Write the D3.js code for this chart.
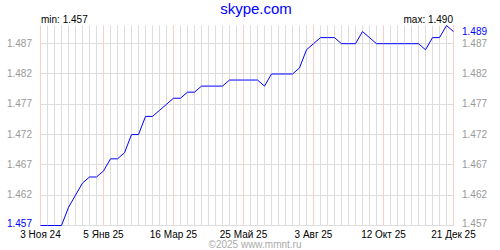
<!DOCTYPE html>
<html>
<head>
<meta charset="utf-8">
<script src="https://cdn.jsdelivr.net/npm/d3@7"></script>
<style>
html, body { margin: 0; padding: 0; background: #fff; }
svg { display: block; }
text { font-family: "Liberation Sans", Arial, sans-serif; }
</style>
</head>
<body>
<svg id="chart" width="500" height="250"></svg>
<script>
// ---- data ----
const title = "skype.com";
const startDate = "2024-11-03";   // first weekly observation
const values = [
  1.457, 1.457, 1.457, 1.457, 1.460, 1.462, 1.464, 1.465, 1.465, 1.466,
  1.468, 1.468, 1.469, 1.472, 1.472, 1.475, 1.475, 1.476, 1.477, 1.478,
  1.478, 1.479, 1.479, 1.480, 1.480, 1.480, 1.480, 1.481, 1.481, 1.481,
  1.481, 1.481, 1.480, 1.482, 1.482, 1.482, 1.482, 1.483, 1.486, 1.487,
  1.488, 1.488, 1.488, 1.487, 1.487, 1.487, 1.489, 1.488, 1.487, 1.487,
  1.487, 1.487, 1.487, 1.487, 1.487, 1.486, 1.488, 1.488, 1.490, 1.489
];
const yTicks = [1.457, 1.462, 1.467, 1.472, 1.477, 1.482, 1.487];
const xTickDates = ["2024-11-03", "2025-01-05", "2025-03-16", "2025-05-25", "2025-08-03", "2025-10-12", "2025-12-21"];
const xTickLabels = ["3 Ноя 24", "5 Янв 25", "16 Мар 25", "25 Май 25", "3 Авг 25", "12 Окт 25", "21 Дек 25"];
const copyright = "©2025 www.mmnt.ru";

// ---- build ----
const parse = d3.utcParse("%Y-%m-%d");
const start = parse(startDate);
const data = values.map((v, i) => ({ date: d3.utcDay.offset(start, 7 * i), value: v }));
const minV = d3.min(values), maxV = d3.max(values), lastV = values[values.length - 1];
const fmt = d3.format(".3f");

const svg = d3.select("#chart");
const x = d3.scaleUtc()
  .domain([data[0].date, data[data.length - 1].date])
  .range([40.5, 453.5]);
const y = d3.scaleLinear().domain([1.457, 1.490]).range([225.5, 25.5]);
const crisp = v => Math.round(v - 0.5) + 0.5;

// weekly vertical grid
const weeks = data.map(d => d.date);
svg.append("g").selectAll("line").data(weeks).join("line")
  .attr("x1", d => crisp(x(d))).attr("x2", d => crisp(x(d)))
  .attr("y1", y(1.490)).attr("y2", y(1.457))
  .attr("stroke", "#dddddd").attr("stroke-width", 1);

// horizontal grid
svg.append("g").selectAll("line").data(yTicks).join("line")
  .attr("x1", 40.5).attr("x2", 453.5)
  .attr("y1", d => crisp(y(d))).attr("y2", d => crisp(y(d)))
  .attr("stroke", "#dddddd").attr("stroke-width", 1);

// red major lines
const majors = xTickDates.map(parse);
svg.append("g").selectAll("line").data(majors).join("line")
  .attr("x1", d => crisp(x(d))).attr("x2", d => crisp(x(d)))
  .attr("y1", y(1.490)).attr("y2", y(1.457))
  .attr("stroke", "#ffcccc").attr("stroke-width", 1);

// line
const line = d3.line().x(d => x(d.date)).y(d => y(d.value));
svg.append("path").datum(data)
  .attr("d", line)
  .attr("fill", "none").attr("stroke", "#0000ff").attr("stroke-width", 1);

const labelY = d => d === yTicks[0] ? y(d) + 1.3 : y(d) + 3.2;

// left y labels
svg.append("g").selectAll("text").data(yTicks).join("text")
  .attr("x", 32).attr("y", labelY)
  .attr("text-anchor", "end").attr("font-size", 10)
  .attr("fill", d => d === minV ? "#0000ff" : "#999999")
  .text(d => fmt(d));

// right y labels
svg.append("g").selectAll("text").data(yTicks).join("text")
  .attr("x", 462).attr("y", labelY)
  .attr("text-anchor", "start").attr("font-size", 10)
  .attr("fill", "#999999")
  .text(d => fmt(d));
svg.append("text")
  .attr("x", 462).attr("y", y(lastV) + 3.2)
  .attr("font-size", 10).attr("fill", "#0000ff")
  .text(fmt(lastV));

// x labels
svg.append("g").selectAll("text").data(majors).join("text")
  .attr("x", (d) => x(d)).attr("y", 237.6)
  .attr("text-anchor", "middle").attr("font-size", 10).attr("fill", "#000")
  .text((d, i) => xTickLabels[i]);

// title, min, max
svg.append("text").attr("x", 256).attr("y", 14).attr("text-anchor", "middle")
  .attr("font-size", 15).attr("fill", "#0000ff").text(title);
svg.append("text").attr("x", 41).attr("y", 23).attr("font-size", 10).attr("fill", "#000")
  .text("min: " + fmt(minV));
svg.append("text").attr("x", 453).attr("y", 23).attr("text-anchor", "end").attr("font-size", 10).attr("fill", "#000")
  .text("max: " + fmt(maxV));
svg.append("text").attr("x", 255).attr("y", 247.5).attr("text-anchor", "middle")
  .attr("font-size", 10).attr("fill", "#aaaaaa").text(copyright);
</script>
</body>
</html>
